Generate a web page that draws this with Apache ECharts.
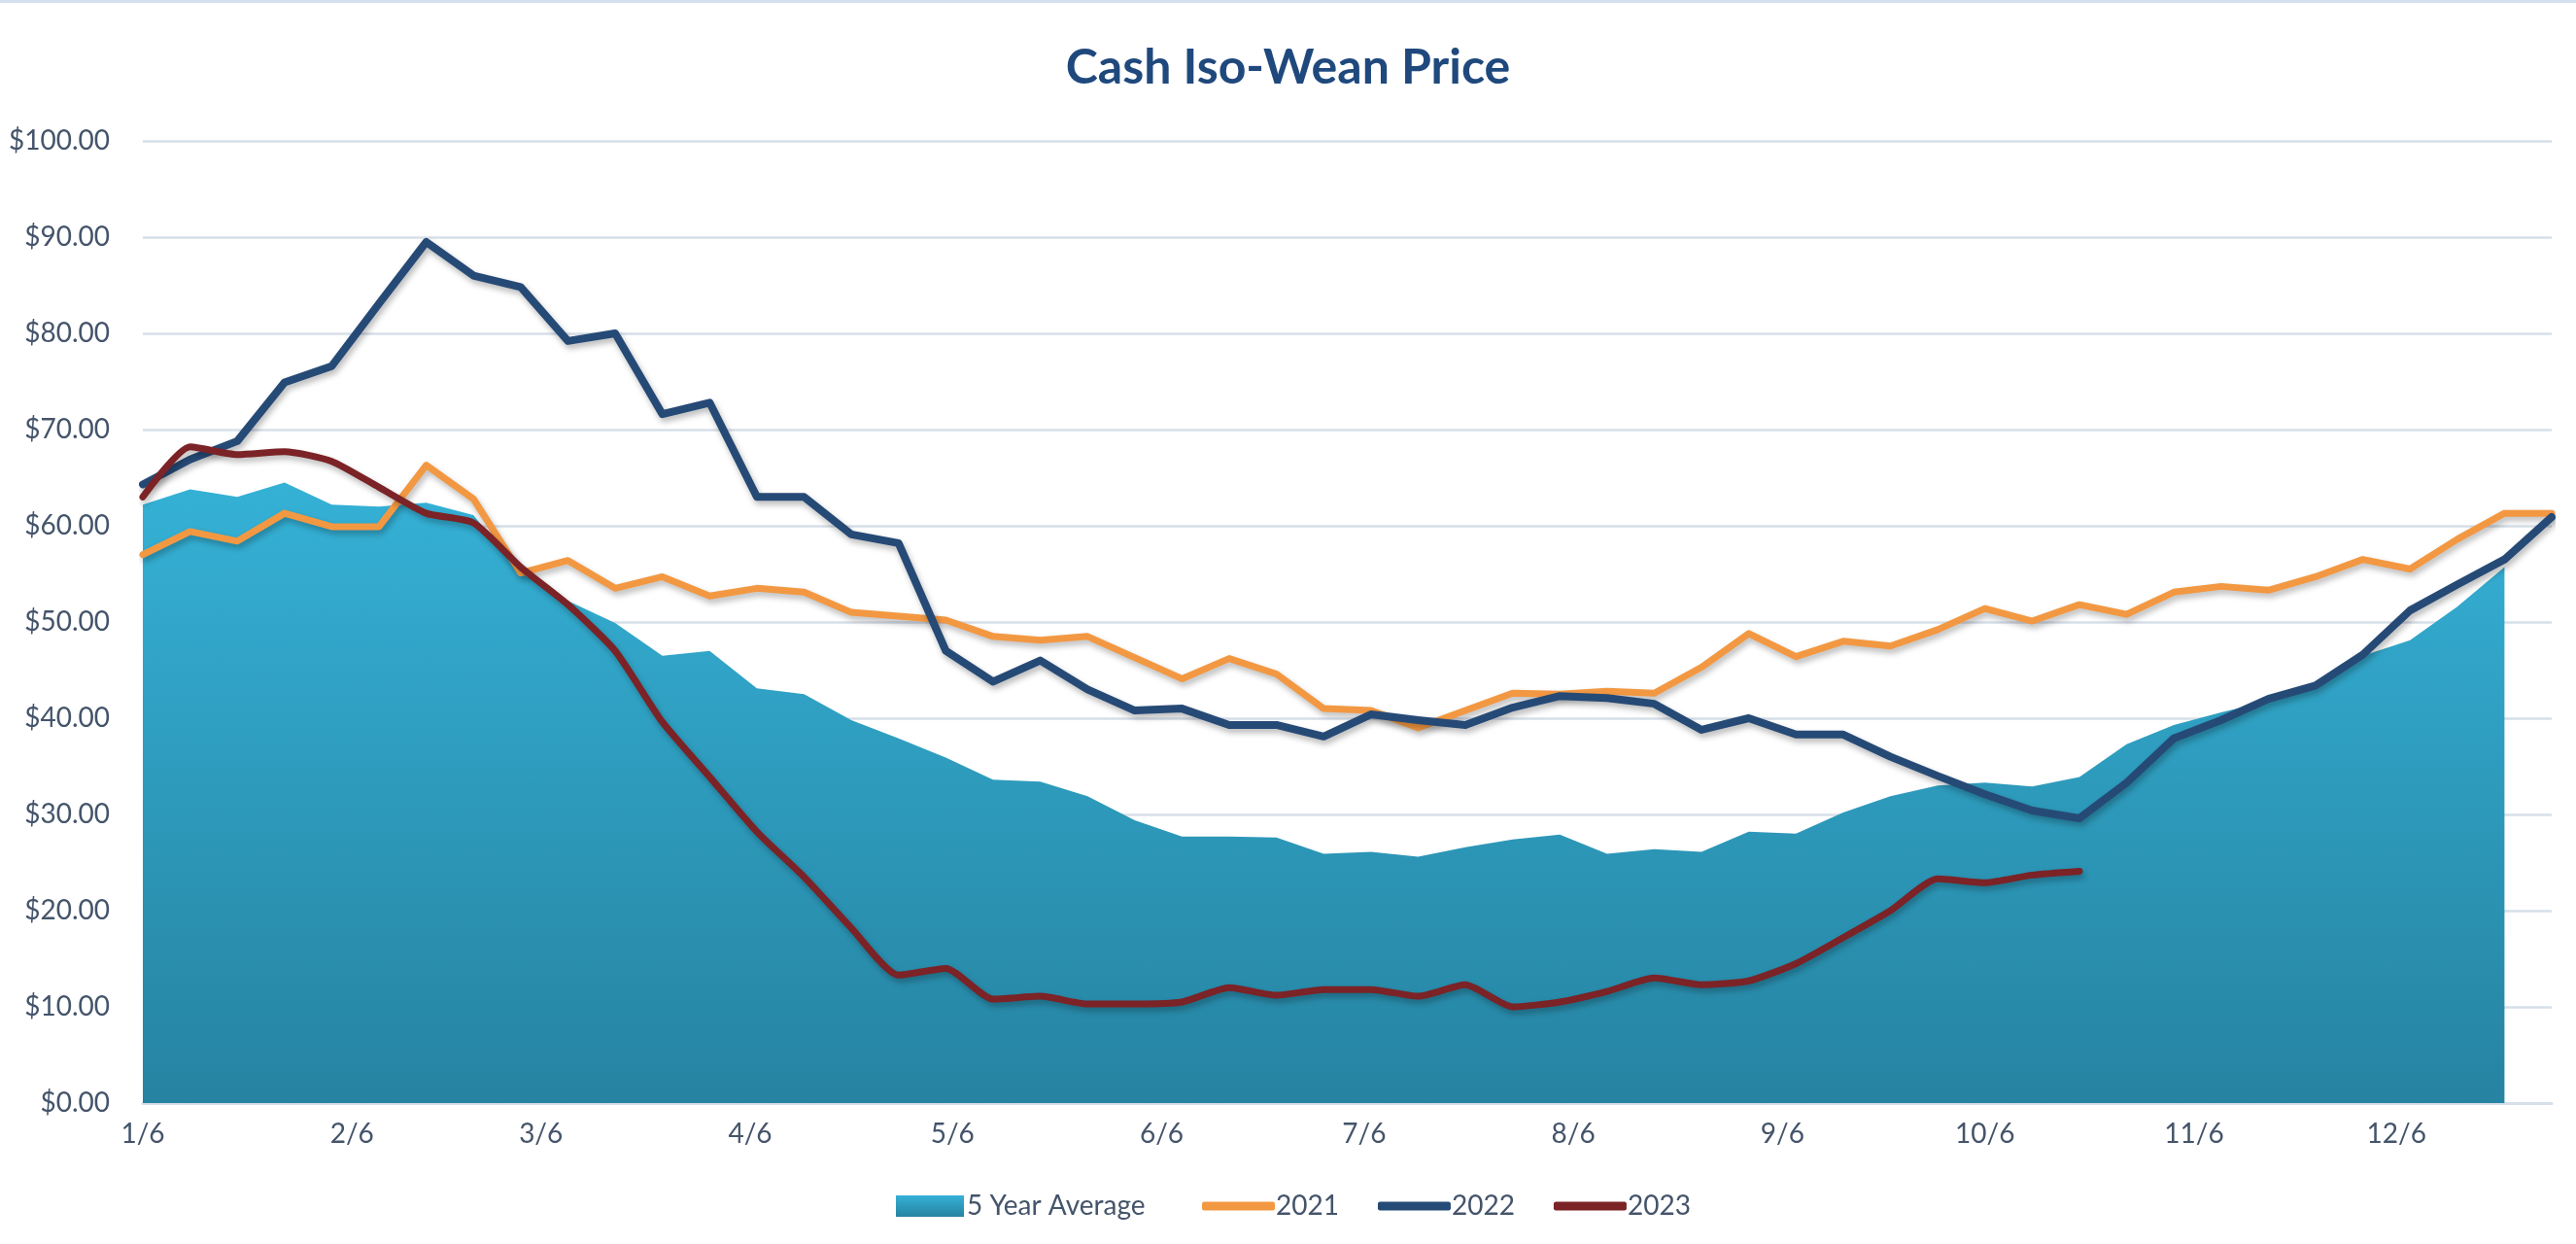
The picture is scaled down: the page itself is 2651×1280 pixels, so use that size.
<!DOCTYPE html>
<html>
<head>
<meta charset="utf-8">
<title>Cash Iso-Wean Price</title>
<script src="https://cdn.jsdelivr.net/npm/echarts@6/dist/echarts.min.js"></script>
<style>
  html, body { margin: 0; padding: 0; background: #fff; }
  #chart { width: 2651px; height: 1280px; }
</style>
</head>
<body>
<div id="chart"></div>
<script>
// days after 1/6 for every weekly price
const weekDays = [0, 7, 14, 21, 28, 35, 42, 49, 56, 63, 70, 77, 84, 91, 98, 105, 112, 119, 126, 133,
  140, 147, 154, 161, 168, 175, 182, 189, 196, 203, 210, 217, 224, 231, 238, 245, 252, 259, 266, 273,
  280, 287, 294, 301, 308, 315, 322, 329, 336, 343, 350, 357]

// x axis ticks sit on the 6th of every month
const monthDays = [0, 31, 59, 90, 120, 151, 181, 212, 243, 273, 304, 334]
const monthLabels = ['1/6', '2/6', '3/6', '4/6', '5/6', '6/6', '7/6', '8/6', '9/6', '10/6', '11/6', '12/6']

const avg5yr = [62.2, 63.8, 63.0, 64.5, 62.2, 62.0, 62.4, 61.1, 55.1, 52.2, 49.9, 46.5, 47.0, 43.1, 42.5,
  39.8, 37.9, 35.9, 33.6, 33.4, 31.9, 29.4, 27.7, 27.7, 27.6, 25.9, 26.1, 25.6, 26.6, 27.4, 27.9, 25.9,
  26.4, 26.1, 28.2, 28.0, 30.2, 31.9, 33.0, 33.3, 32.9, 33.9, 37.3, 39.3, 40.6, 41.8, 43.6, 46.5, 48.1,
  51.6, 55.7]

const price2021 = [57.0, 59.4, 58.4, 61.3, 59.9, 59.9, 66.3, 62.8, 55.1, 56.4, 53.5, 54.7, 52.7, 53.5,
  53.1, 51.0, 50.6, 50.2, 48.5, 48.1, 48.5, 46.3, 44.1, 46.2, 44.6, 41.0, 40.8, 39.0, 40.8, 42.6, 42.5,
  42.8, 42.6, 45.3, 48.8, 46.4, 48.0, 47.5, 49.2, 51.4, 50.1, 51.8, 50.8, 53.1, 53.7, 53.3, 54.7, 56.5,
  55.5, 58.6, 61.3, 61.3]

const price2022 = [64.3, 66.9, 68.8, 74.9, 76.6, 83.1, 89.5, 86.0, 84.8, 79.2, 80.0, 71.6, 72.8, 63.0,
  63.0, 59.1, 58.2, 47.0, 43.8, 46.0, 43.0, 40.8, 41.0, 39.3, 39.3, 38.1, 40.4, 39.8, 39.3, 41.1, 42.3,
  42.1, 41.5, 38.8, 40.0, 38.3, 38.3, 36.0, 34.0, 32.1, 30.4, 29.6, 33.3, 37.9, 39.8, 42.0, 43.4, 46.6,
  51.2, 53.9, 56.5, 60.9]

const price2023 = [63.0, 68.2, 67.4, 67.7, 66.7, 64.0, 61.3, 60.3, 55.7, 51.8, 47.0, 39.6, 33.9, 28.2,
  23.5, 18.2, 13.3, 14.0, 10.8, 11.1, 10.3, 10.3, 10.5, 12.0, 11.2, 11.8, 11.8, 11.1, 12.3, 10.0, 10.5,
  11.6, 13.0, 12.3, 12.7, 14.5, 17.2, 20.0, 23.3, 22.9, 23.7, 24.1]

const textColor = '#44546A'
const gridColor = '#D7DFE9'
const fontFamily = 'Lato, "Open Sans", sans-serif'

function toPoints(values) {
  return values.map((v, i) => [weekDays[i], v])
}

function lineSeries(name, values, color, width, smooth) {
  return {
    name: name,
    type: 'line',
    data: toPoints(values),
    symbol: 'none',
    smooth: smooth,
    itemStyle: { color: color },
    lineStyle: {
      color: color,
      width: width,
      cap: 'round',
      join: 'round',
      shadowColor: 'rgba(0, 0, 0, 0.28)',
      shadowBlur: 6,
      shadowOffsetX: 2,
      shadowOffsetY: 4,
    },
  }
}

function initChart() {
  const chart = echarts.init(document.getElementById('chart'), null, { renderer: 'canvas' })
  const areaGradient = new echarts.graphic.LinearGradient(0, 0, 0, 1, [
    { offset: 0, color: '#35B1D6' },
    { offset: 1, color: '#2683A1' },
  ])
  const option = {
    animation: false,
    backgroundColor: '#ffffff',
    textStyle: { fontFamily: fontFamily },
    title: {
      text: 'Cash Iso-Wean Price',
      left: 'center',
      top: 40,
      textStyle: { fontFamily: fontFamily, fontSize: 50, fontWeight: 'bold', color: '#1F497D' },
    },
    grid: { left: 147, right: 25, top: 145, bottom: 145 },
    xAxis: {
      type: 'value',
      min: 0,
      max: weekDays[weekDays.length - 1],
      axisLine: { show: true, lineStyle: { color: gridColor, width: 3 } },
      axisTick: { show: false },
      splitLine: { show: false },
      axisLabel: {
        customValues: monthDays,
        margin: 18,
        fontSize: 28,
        color: textColor,
        fontFamily: fontFamily,
        formatter: (v) => monthLabels[monthDays.indexOf(v)],
      },
    },
    yAxis: {
      type: 'value',
      min: 0,
      max: 100,
      interval: 10,
      axisLine: { show: false },
      axisTick: { show: false },
      splitLine: { lineStyle: { color: gridColor, width: 2.5 } },
      axisLabel: {
        margin: 34,
        fontSize: 28,
        color: textColor,
        fontFamily: fontFamily,
        formatter: (v) => '$' + v.toFixed(2),
      },
    },
    legend: [
      {
        data: [{ name: '5 Year Average', icon: 'rect', itemStyle: { color: areaGradient } }],
        left: 917,
        top: 1222,
        itemWidth: 70,
        itemHeight: 22,
        itemGap: 40,
        itemStyle: { borderWidth: 0 },
        textStyle: { fontSize: 28, color: textColor, fontFamily: fontFamily, padding: [0, 0, 0, -2] },
      },
      {
        data: ['2021', '2022', '2023'],
        icon: 'roundRect',
        left: 1232,
        top: 1222,
        itemWidth: 75,
        itemHeight: 9,
        itemGap: 40,
        itemStyle: { borderWidth: 0 },
        textStyle: { fontSize: 28, color: textColor, fontFamily: fontFamily, padding: [0, 0, 0, -4] },
      },
    ],
    graphic: [
      {
        type: 'rect',
        shape: { x: 0, y: 0, width: 2651, height: 3 },
        style: { fill: '#D3E0EE' },
        silent: true,
      },
    ],
    series: [
      {
        name: '5 Year Average',
        type: 'line',
        data: toPoints(avg5yr),
        symbol: 'none',
        z: 1,
        itemStyle: { color: areaGradient },
        lineStyle: { width: 0 },
        areaStyle: { color: areaGradient, opacity: 1 },
      },
      lineSeries('2021', price2021, '#F39842', 7, false),
      lineSeries('2022', price2022, '#264A76', 8, false),
      lineSeries('2023', price2023, '#7B2326', 7, 0.2),
    ],
  }
  chart.setOption(option)
}

initChart()
</script>
</body>
</html>
